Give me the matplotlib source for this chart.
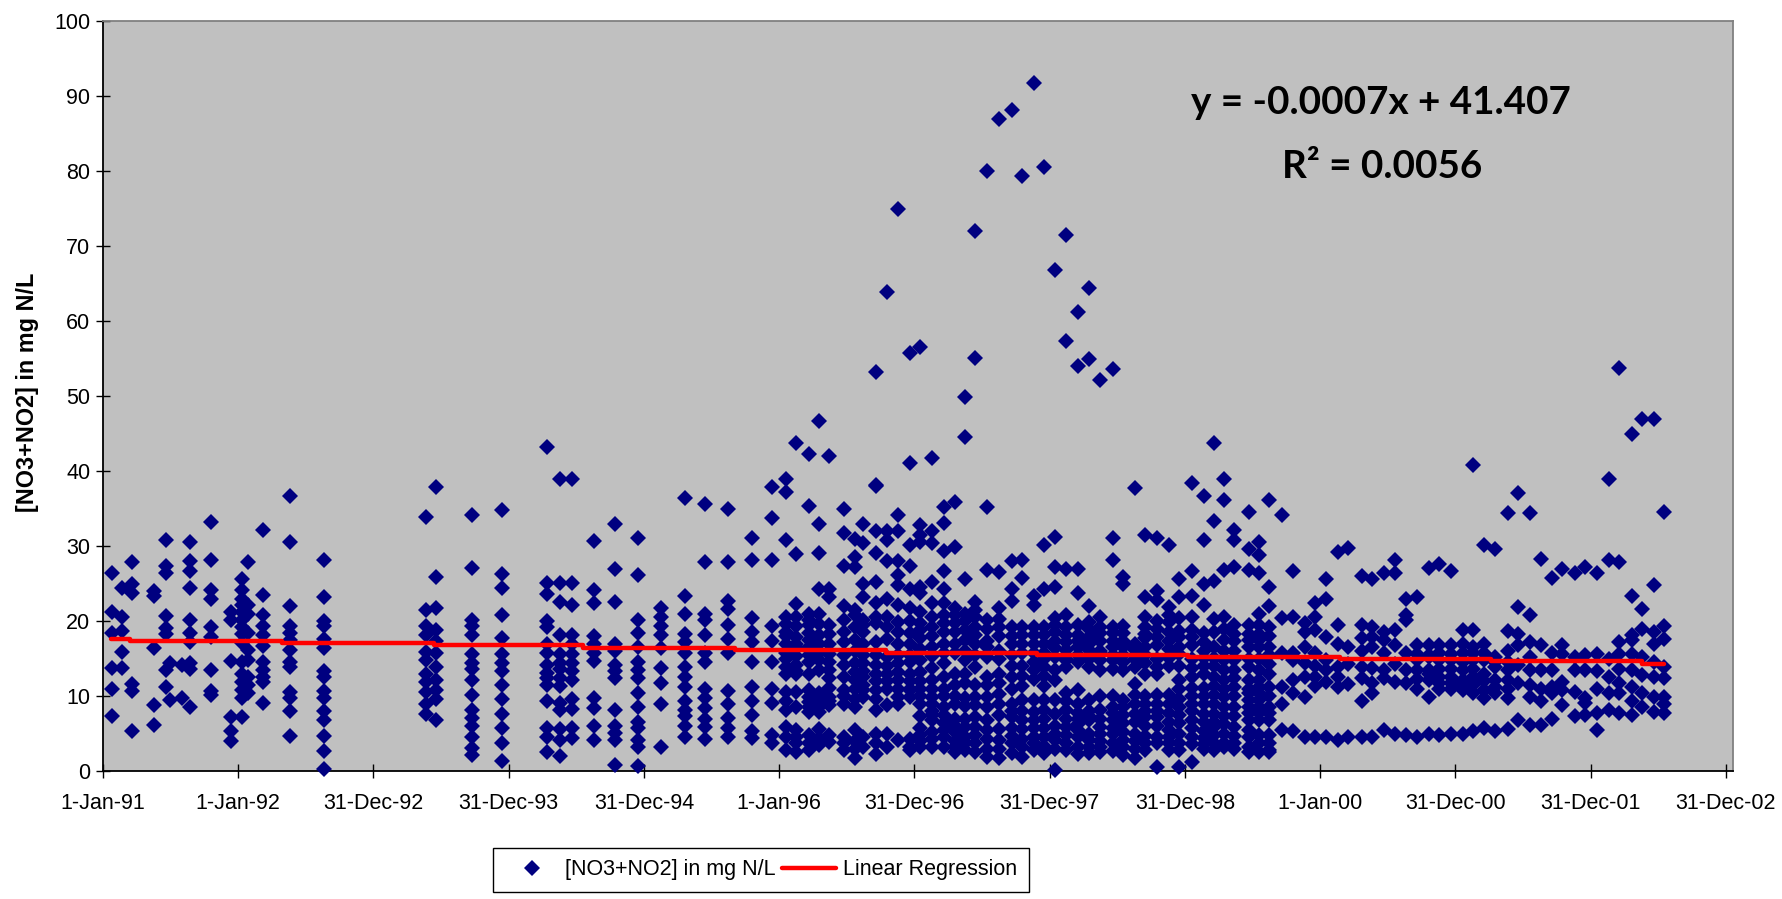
"""
NO3+NO2 concentration vs. sampling date, with the linear regression line.
Output: out.png
"""

import matplotlib.pyplot as plt
import numpy as np

plt.rcParams['font.family'] = ['Liberation Sans', 'DejaVu Sans']

# Sampling day (days since 1-Jan-91), one entry per sampling column
sample_days = [
    24, 50, 78, 138, 170, 181, 214, 236, 292, 346, 374, 390, 433, 504, 597,
    871, 898, 996, 1078, 1199, 1232, 1265, 1325, 1382, 1445, 1505, 1571, 1626,
    1686, 1751, 1805, 1843, 1871, 1904, 1932, 1960, 1999, 2030, 2051, 2085,
    2116, 2146, 2178, 2206, 2237, 2271, 2299, 2326, 2353, 2386, 2419, 2452,
    2480, 2512, 2539, 2570, 2598, 2631, 2660, 2692, 2725, 2752, 2784, 2813,
    2845, 2878, 2904, 2938, 2971, 2999, 3026, 3052, 3092, 3119, 3146, 3182,
    3212, 3243, 3271, 3300, 3332, 3360, 3397, 3425, 3457, 3486, 3517, 3545,
    3578, 3605, 3639, 3671, 3698, 3727, 3758, 3792, 3819, 3851, 3880, 3911,
    3938, 3973, 4000, 4033, 4064, 4091, 4126, 4153, 4185, 4213,
]

# [NO3+NO2] readings in mg N/L for each sampling column
sample_values = [
    [26.4, 21.2, 18.4, 13.8, 10.9, 7.4],
    [24.4, 20.6, 18.7, 15.9, 13.8],
    [27.9, 24.9, 23.7, 11.6, 10.7, 5.4],
    [24.0, 23.4, 16.4, 8.8, 6.2],
    [30.8, 27.3, 26.4, 20.7, 19.1, 18.3, 13.5, 11.2],
    [14.4, 9.5],
    [14.1, 9.7],
    [30.5, 28.0, 26.7, 24.4, 20.1, 18.4, 17.2, 14.4, 13.6, 8.5],
    [33.2, 28.2, 24.1, 23.0, 19.2, 17.9, 13.5, 10.7, 10.1],
    [21.2, 20.1, 14.7, 7.2, 5.4, 4.0],
    [25.6, 24.1, 23.0, 22.1, 21.2, 20.2, 19.2, 18.3, 17.1, 14.6, 13.0, 11.9, 10.8, 9.7, 7.2],
    [27.9, 22.1, 21.0, 18.4, 16.1, 14.8, 12.6, 11.5, 10.4],
    [32.2, 23.5, 20.8, 19.4, 18.1, 16.7, 14.6, 13.5, 12.6, 11.9, 9.1],
    [36.7, 30.5, 22.0, 19.4, 18.4, 17.5, 16.1, 14.6, 13.9, 10.6, 9.7, 8.0, 4.7],
    [28.2, 23.2, 20.0, 19.3, 17.6, 16.4, 13.3, 12.5, 10.7, 9.7, 8.0, 6.8, 4.7, 2.7, 0.3],
    [33.9, 21.5, 19.4, 18.2, 15.9, 14.8, 13.0, 11.9, 10.6, 8.9, 7.6],
    [37.9, 25.9, 21.7, 18.8, 17.3, 15.7, 13.9, 12.1, 10.8, 9.6, 6.8],
    [34.2, 27.1, 20.2, 19.3, 18.2, 15.6, 14.4, 13.6, 12.2, 10.2, 8.2, 7.1, 6.0, 4.5, 3.1, 2.1],
    [34.8, 26.3, 24.4, 20.8, 17.7, 15.6, 14.4, 13.4, 11.5, 9.6, 7.6, 5.7, 3.8, 1.4],
    [43.2, 25.1, 23.6, 20.0, 19.2, 16.9, 15.8, 14.2, 13.1, 12.4, 11.5, 9.4, 5.7, 4.5, 2.6],
    [39.0, 25.1, 22.5, 18.1, 15.6, 14.4, 13.6, 12.4, 11.3, 9.1, 8.2, 5.6, 4.2, 2.0],
    [39.0, 25.1, 22.2, 18.1, 16.9, 15.6, 14.4, 13.3, 12.1, 9.6, 8.3, 5.7, 4.4],
    [30.7, 24.2, 22.4, 18.0, 16.9, 15.8, 14.7, 9.8, 8.4, 6.0, 4.2],
    [33.0, 26.9, 22.5, 16.9, 16.0, 14.2, 13.3, 12.4, 8.2, 6.0, 5.1, 4.2, 0.8],
    [31.1, 26.1, 20.1, 18.4, 16.6, 14.6, 13.5, 12.4, 10.4, 8.6, 6.5, 5.7, 4.1, 3.2, 0.7],
    [21.7, 20.6, 19.3, 18.1, 16.4, 13.8, 11.8, 9.0, 3.2],
    [36.4, 23.4, 20.9, 18.3, 17.2, 15.7, 13.9, 12.6, 11.2, 9.3, 8.2, 7.3, 6.0, 4.6],
    [35.6, 27.9, 20.9, 20.1, 18.2, 15.7, 14.6, 11.0, 9.7, 8.4, 7.0, 5.9, 4.3],
    [34.9, 27.9, 22.7, 21.6, 19.5, 17.6, 15.7, 10.7, 8.9, 7.1, 5.8, 4.6],
    [31.1, 28.2, 20.4, 18.5, 17.2, 14.6, 11.2, 9.3, 7.5, 5.3, 4.4],
    [37.9, 33.8, 28.2, 19.3, 17.3, 14.6, 10.9, 9.1, 4.8, 3.7],
    [38.9, 37.2, 30.8, 20.6, 18.6, 17.0, 15.7, 13.9, 10.6, 8.1, 5.9, 4.6, 2.8],
    [43.8, 28.9, 22.3, 19.3, 17.9, 16.6, 15.3, 12.9, 10.6, 8.6, 4.6, 2.6],
    [42.3, 35.3, 21.0, 20.1, 18.4, 16.6, 14.6, 13.0, 10.8, 9.2, 7.9, 4.8, 2.8],
    [46.7, 32.9, 29.1, 24.3, 21.0, 18.1, 14.8, 13.5, 10.4, 9.2, 7.9, 4.4, 3.5],
    [42.0, 24.3, 23.2, 19.5, 17.0, 13.5, 12.4, 9.9, 8.8, 3.9],
    [34.9, 31.7, 27.3, 22.0, 18.6, 12.6, 10.8, 9.0, 4.6, 2.8],
    [30.9, 28.6, 27.2, 20.8, 19.2, 14.4, 12.1, 8.6, 5.5, 1.7],
    [33.0, 30.4, 25.0, 23.2, 20.2, 18.6, 13.3, 12.6, 9.9, 3.2],
    [53.2, 38.2, 38.0, 32.0, 29.1, 25.2, 22.4, 19.7, 17.2, 13.0, 10.8, 8.1, 5.0, 2.3],
    [63.9, 32.0, 30.8, 28.0, 22.9, 19.2, 15.2, 13.0, 12.0, 5.0, 3.2],
    [75.0, 34.1, 32.0, 28.0, 26.2, 24.8, 22.1, 19.9, 17.0, 14.4, 12.1, 9.9, 4.1],
    [55.7, 41.1, 30.2, 27.3, 24.3, 21.7, 18.4, 14.6, 13.0, 11.0, 9.9, 4.3, 2.8],
    [56.6, 32.8, 31.5, 30.6, 24.6, 23.7, 21.2, 18.8, 17.7, 13.2, 11.0, 7.3, 4.8, 3.2],
    [41.7, 32.0, 30.4, 25.2, 22.4, 19.2, 16.6, 13.7, 12.1, 9.9, 6.8, 5.2, 3.2],
    [35.2, 33.1, 29.4, 26.7, 24.3, 22.4, 19.7, 17.0, 14.4, 12.6, 11.0, 8.6, 6.4, 3.2],
    [35.9, 29.9, 21.7, 19.7, 17.0, 13.0, 10.0, 7.0, 5.2, 2.6],
    [49.9, 44.6, 25.6, 21.0, 18.8, 14.8, 11.7, 9.7, 5.9, 2.8],
    [72.0, 55.1, 22.6, 20.6, 19.2, 13.9, 9.9, 7.2, 3.7, 2.6],
    [80.0, 35.2, 26.8, 20.1, 17.4, 12.6, 9.9, 6.8, 1.9],
    [87.0, 26.6, 21.7, 19.2, 16.0, 11.7, 9.0, 4.1, 1.7],
    [88.2, 28.0, 24.3, 22.7, 19.2, 17.0, 12.6, 9.0, 7.2, 3.7, 2.4],
    [79.4, 28.2, 25.8, 19.2, 17.0, 11.4, 6.8, 3.2, 1.9],
    [91.7, 23.4, 22.1, 19.2, 17.0, 13.5, 7.9, 4.6, 2.8],
    [80.5, 30.2, 24.3, 19.2, 17.0, 13.9, 11.4, 8.1, 4.6, 2.4],
    [66.8, 31.2, 27.2, 24.6, 20.4, 18.6, 16.4, 12.1, 7.6, 4.1, 0.1],
    [71.5, 57.4, 27.0, 20.8, 18.1, 16.1, 14.8, 13.9, 10.4, 8.1, 5.9, 3.7],
    [61.2, 54.0, 27.0, 23.8, 18.1, 16.6, 14.6, 10.8, 9.0, 7.7, 5.5, 3.2],
    [64.4, 55.0, 22.0, 19.9, 17.9, 16.1, 13.9, 9.5, 6.8, 4.1, 2.4],
    [52.2, 20.6, 19.2, 17.4, 14.8, 13.5, 8.1, 5.9, 3.2],
    [53.6, 31.1, 28.1, 18.4, 16.6, 14.8, 8.6, 6.8, 4.9, 2.7],
    [25.9, 25.0, 18.4, 16.6, 14.6, 8.6, 6.4, 4.1, 2.2],
    [37.7, 16.1, 13.9, 11.6, 10.2, 7.6, 5.0, 1.8],
    [31.5, 23.2, 20.6, 19.2, 17.7, 14.4, 9.0, 7.2, 3.7, 2.8],
    [31.1, 24.0, 22.8, 20.0, 17.9, 13.9, 10.2, 9.0, 7.2, 4.6, 0.5],
    [30.2, 21.9, 19.9, 17.3, 15.1, 10.2, 7.7, 4.6, 2.8],
    [25.6, 23.2, 20.4, 17.9, 15.6, 12.1, 8.6, 6.4, 3.7, 0.5],
    [38.4, 26.7, 23.4, 20.6, 17.9, 13.8, 11.1, 9.0, 6.8, 4.6, 1.2],
    [36.7, 30.8, 25.0, 22.2, 18.4, 15.1, 12.9, 11.1, 7.6, 5.3, 3.6],
    [43.7, 33.4, 25.4, 20.3, 15.1, 12.6, 10.2, 7.6, 5.9, 3.7],
    [39.0, 36.1, 26.8, 20.6, 19.0, 14.8, 12.1, 9.9, 7.4, 4.9, 3.2],
    [32.1, 30.8, 27.2, 18.3, 16.0, 13.5, 11.2, 8.6, 5.9, 2.9],
    [34.5, 29.6, 26.8, 18.3, 16.6, 13.9, 12.1, 10.4, 8.6, 6.8, 5.5, 3.2],
    [30.6, 28.8, 26.4, 20.9, 18.3, 16.6, 12.1, 10.4, 8.6, 6.8, 3.7, 2.6],
    [36.1, 24.6, 22.0, 19.2, 16.6, 14.3, 11.2, 8.6, 6.8, 3.7, 2.6],
    [34.1, 20.4, 15.8, 11.2, 9.0, 5.5],
    [26.7, 20.6, 15.8, 14.8, 12.1, 10.4, 5.4],
    [19.7, 18.6, 16.6, 14.4, 12.6, 9.9, 4.5],
    [22.4, 20.6, 18.8, 15.8, 14.0, 12.6, 11.4, 4.6],
    [25.6, 22.9, 17.9, 14.8, 13.5, 11.9, 4.6],
    [29.2, 19.5, 17.0, 13.9, 12.6, 11.2, 4.1],
    [29.8, 16.6, 14.3, 11.6, 4.6],
    [26.0, 19.5, 17.7, 16.0, 13.9, 12.4, 9.4, 4.6],
    [25.6, 19.2, 17.9, 16.6, 13.7, 11.7, 10.4, 4.5],
    [26.4, 18.6, 17.5, 15.7, 13.5, 12.4, 5.5],
    [28.2, 26.4, 18.8, 16.8, 14.3, 11.9, 5.0],
    [23.0, 20.8, 20.2, 15.8, 13.5, 11.7, 4.8],
    [23.2, 16.8, 14.8, 13.5, 11.0, 4.6],
    [27.1, 16.8, 15.2, 13.5, 12.1, 9.9, 4.9],
    [27.6, 16.8, 14.8, 12.6, 11.0, 4.8],
    [26.7, 16.8, 14.8, 12.6, 11.0, 5.0],
    [18.8, 17.0, 15.7, 13.5, 12.1, 10.8, 5.0],
    [40.8, 18.8, 16.6, 14.8, 12.6, 10.4, 5.4],
    [30.2, 17.0, 14.8, 13.0, 10.8, 5.7],
    [29.6, 15.2, 13.9, 12.1, 10.4, 5.4],
    [34.4, 18.7, 16.0, 13.5, 11.0, 5.6],
    [37.1, 21.9, 18.3, 16.8, 14.2, 11.7, 6.8],
    [34.4, 20.8, 17.2, 15.2, 13.5, 11.5, 9.9, 6.1],
    [28.3, 16.8, 13.5, 11.0, 9.4, 6.2],
    [25.7, 15.8, 13.5, 11.2, 10.4, 6.9],
    [26.9, 16.8, 15.6, 11.9, 10.8, 8.8],
    [26.4, 15.2, 13.5, 10.6, 7.3],
    [27.2, 15.5, 13.5, 9.8, 9.1, 7.5],
    [26.4, 15.6, 13.3, 10.9, 7.7, 5.5],
    [39.0, 28.2, 15.0, 12.6, 10.4, 8.1],
    [53.7, 27.9, 17.2, 15.6, 13.6, 11.7, 10.4, 7.7],
    [45.0, 23.3, 18.1, 17.5, 15.6, 13.5, 11.2, 9.4, 7.5],
    [47.0, 21.6, 19.0, 15.2, 12.8, 10.4, 8.6],
    [47.0, 24.8, 18.6, 16.9, 14.6, 12.6, 9.9, 7.9],
    [34.5, 19.4, 17.6, 13.9, 12.4, 9.9, 9.0, 7.7],
]

# Further readings inside the solid bands, where single markers overlap
dense_days = [
    1843, 1871, 1904, 1932, 1960, 1999, 2030, 2051, 2085, 2116, 2146, 2178,
    2206, 2237, 2271, 2299, 2326, 2353, 2386, 2419, 2452, 2480, 2512, 2539,
    2570, 2598, 2631, 2660, 2692, 2725, 2752, 2784, 2813, 2845, 2878, 2904,
    2938, 2971, 2999, 3026, 3052, 3092, 3119, 3146, 3545, 3578, 3605, 3639,
    3671, 3698, 3727, 3758, 3792,
]
dense_values = [
    [19.6, 18.0, 15.0, 13.0, 9.3],
    [20.5, 16.9, 14.2, 13.3, 5.5, 3.7],
    [19.5, 17.5, 15.5, 9.9, 8.5, 3.8],
    [19.6, 17.0, 15.8, 8.5, 5.6],
    [18.3, 15.6, 14.6, 11.1, 9.4, 4.8],
    [20.2, 17.2, 15.5, 14.2, 10.0, 3.8],
    [21.5, 17.5, 16.0, 13.2, 11.0, 9.6, 4.0, 3.0],
    [19.5, 17.0, 15.5, 14.4, 11.5, 10.8, 4.5],
    [20.6, 15.5, 14.2, 12.0, 9.6, 3.8],
    [20.5, 17.6, 14.0, 11.0, 8.8],
    [18.5, 15.5, 13.2, 11.0, 9.0],
    [20.0, 17.0, 15.5, 12.0, 10.8, 3.2],
    [19.8, 16.3, 14.8, 12.0, 10.0, 9.0, 5.8, 4.0],
    [20.5, 18.0, 15.3, 11.0, 9.0, 8.0, 7.5, 4.3],
    [20.8, 18.5, 15.8, 10.0, 7.5, 5.5, 4.5],
    [20.8, 18.5, 15.8, 11.5, 9.0, 6.0, 4.0, 3.2],
    [20.0, 17.5, 16.0, 13.0, 8.7, 7.0, 4.6, 3.7],
    [21.5, 18.2, 17.0, 15.5, 11.5, 8.8, 5.9, 4.8],
    [19.0, 16.5, 15.2, 11.5, 8.5, 5.5, 4.3, 3.0],
    [20.3, 18.0, 15.0, 13.0, 10.3, 7.5, 5.6, 3.0],
    [18.0, 15.5, 14.0, 11.0, 8.0, 5.8, 4.7],
    [18.2, 15.8, 14.0, 12.7, 9.5, 8.0, 5.6, 4.3],
    [18.2, 15.8, 14.5, 12.3, 9.5, 6.8, 5.8, 3.7],
    [18.2, 15.8, 15.0, 12.7, 9.5, 7.0, 5.8, 3.4],
    [19.5, 17.4, 15.2, 13.5, 9.5, 6.0, 5.0, 3.0],
    [19.2, 17.2, 15.0, 9.3, 7.0, 4.8, 2.8],
    [19.5, 17.3, 15.5, 7.0, 6.3, 4.5, 2.3],
    [19.0, 17.0, 15.0, 8.0, 7.3, 5.0, 3.2],
    [18.4, 16.0, 15.8, 10.0, 7.0, 5.0, 4.0, 2.5],
    [19.2, 17.4, 15.5, 13.6, 10.0, 7.8, 5.8, 3.8],
    [19.3, 17.4, 15.5, 13.5, 9.5, 7.5, 5.2, 3.2],
    [17.0, 15.0, 9.0, 6.5, 4.0, 3.0],
    [18.3, 16.5, 15.5, 13.0, 10.0, 8.0, 6.0, 4.7],
    [18.9, 16.8, 15.0, 13.0, 8.0, 6.0, 3.7],
    [20.8, 18.5, 16.3, 14.0, 9.0, 6.5, 5.5, 3.7],
    [18.7, 16.5, 14.0, 11.0, 9.6, 7.5, 5.0, 2.8],
    [18.8, 16.8, 15.0, 12.5, 10.0, 8.0, 5.7, 3.6],
    [17.2, 16.0, 14.0, 10.0, 9.0, 6.5, 4.4, 3.0],
    [18.5, 16.5, 14.0, 11.4, 9.0, 6.5, 4.8, 2.8],
    [17.5, 16.0, 13.5, 11.0, 8.6, 6.3, 3.8],
    [19.5, 17.3, 14.8, 12.4, 10.0, 7.3, 4.7, 3.8],
    [19.5, 17.5, 15.0, 11.0, 9.5, 7.8, 4.5, 2.6],
    [19.5, 17.5, 15.0, 13.5, 11.2, 9.5, 7.8, 4.8],
    [18.0, 15.5, 13.0, 10.0, 7.8, 4.8, 2.8],
    [15.6, 12.3],
    [15.5, 13.0],
    [15.8, 13.6, 11.8],
    [15.6, 13.6, 11.8],
    [14.5, 11.4],
    [15.7, 13.6, 11.5],
    [15.8, 12.0, 9.8],
    [14.5, 11.2],
    [14.6, 12.2, 9.8],
]

# Regression line as drawn: stepped, one level per plotted interval
trend_days = [22, 73, 482, 892, 1296, 1706, 2112, 2520, 2928, 3338, 3745, 4153, 4212]
trend_values = [17.6, 17.35, 17.05, 16.75, 16.4, 16.1, 15.8, 15.5, 15.2, 14.9, 14.7, 14.3, 14.3]

x_tick_days = [0, 365, 730, 1095, 1460, 1825, 2190, 2555, 2920, 3285, 3650, 4015, 4380]
x_tick_labels = [
    '1-Jan-91', '1-Jan-92', '31-Dec-92', '31-Dec-93', '31-Dec-94', '1-Jan-96',
    '31-Dec-96', '31-Dec-97', '31-Dec-98', '1-Jan-00', '31-Dec-00', '31-Dec-01',
    '31-Dec-02',
]
y_ticks = [0, 10, 20, 30, 40, 50, 60, 70, 80, 90, 100]

W, H = 1783, 899
fig = plt.figure(figsize=(W / 100, H / 100), dpi=100, facecolor='white')
ax = fig.add_axes([103 / W, 1 - 771 / H, 1630 / W, 750 / H], facecolor='#C0C0C0')

days = np.concatenate([
    np.repeat(sample_days, [len(v) for v in sample_values]),
    np.repeat(dense_days, [len(v) for v in dense_values]),
])
values = np.concatenate(sample_values + dense_values)
ax.plot(days, values, linestyle='none', marker='D', markersize=8.0, color='#000080',
        markeredgewidth=0, clip_on=False, zorder=4, label='[NO3+NO2] in mg N/L')
ax.plot(trend_days, trend_values, drawstyle='steps-post', color='#FF0000', linewidth=3.2,
        solid_capstyle='round', zorder=5, label='Linear Regression')

ax.set_xlim(0, 4399)
ax.set_ylim(0, 100)
ax.set_xticks(x_tick_days)
ax.set_xticklabels(x_tick_labels)
ax.set_yticks(y_ticks)
ax.tick_params(axis='x', direction='inout', length=10, width=1, labelsize=15.5, pad=11)
ax.tick_params(axis='y', direction='inout', length=10, width=1, labelsize=15.5, pad=4)

ax.spines['left'].set_linewidth(1.3)
ax.spines['bottom'].set_linewidth(1.3)
ax.spines['top'].set_color('#808080')
ax.spines['right'].set_color('#808080')
ax.spines['top'].set_linewidth(1.3)
ax.spines['right'].set_linewidth(1.3)

fig.text(28 / W, 1 - 392 / H, '[NO3+NO2] in mg N/L', rotation=90, ha='center', va='center',
         fontsize=16.8, fontweight='bold')

# Regression equation
fig.text(1381 / W, 1 - 103 / H, 'y = -0.0007x + 41.407', ha='center', va='center',
         fontsize=27.8, fontweight='bold', family=['Lato', 'DejaVu Sans'])
fig.text(1382 / W, 1 - 166 / H, 'R² = 0.0056', ha='center', va='center',
         fontsize=27.8, fontweight='bold', family=['Lato', 'DejaVu Sans'])

legend = fig.legend(loc='center', bbox_to_anchor=(761 / W, 1 - 870 / H), ncol=2, fontsize=15.5,
                    fancybox=False, framealpha=1, edgecolor='black', handlelength=2.5,
                    handletextpad=0.3, columnspacing=0.3, borderpad=0.55)
legend.get_frame().set_linewidth(1)

fig.savefig('out.png', dpi=100, facecolor='white')
